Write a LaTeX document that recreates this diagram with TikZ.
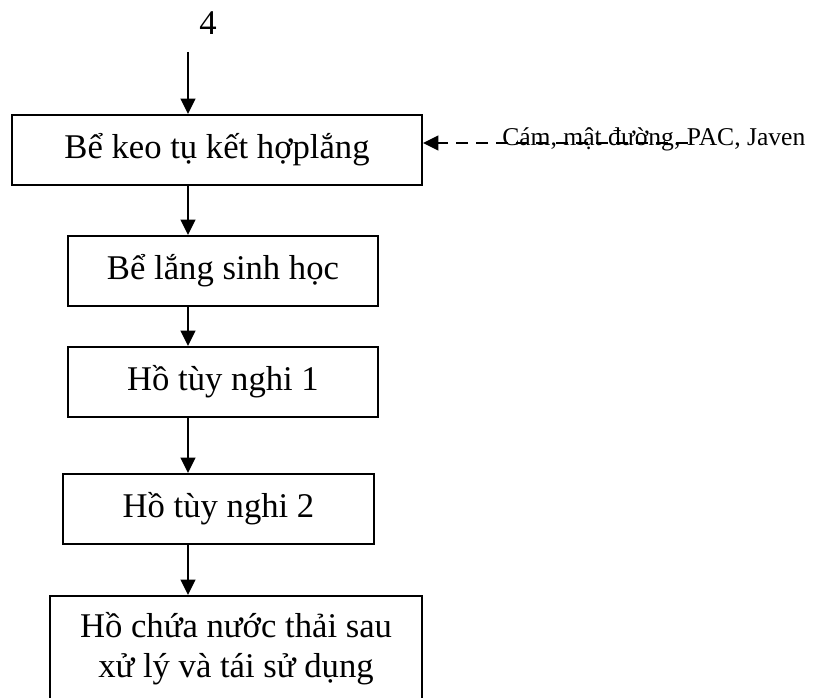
\documentclass[tikz,border=0pt]{standalone}
\usepackage{fontspec}
\setmainfont{Liberation Serif}
\usetikzlibrary{arrows.meta}
\tikzset{
  box/.style={draw, line width=1.5pt, rectangle, inner sep=0pt, align=center,
    font=\fontsize{26}{30}\selectfont, minimum height=52.5pt},
  arr/.style={line width=1.5pt, -{Triangle[length=11.5pt,width=11pt]}},
  dasharr/.style={line width=1.5pt, dash pattern=on 9pt off 6pt, -{Triangle[length=11.5pt,width=11pt]}},
  lbl/.style={inner sep=0pt, font=\fontsize{19.2}{22}\selectfont},
  big/.style={inner sep=0pt, font=\fontsize{26}{30}\selectfont}
}
\begin{document}
\begin{tikzpicture}[x=0.75pt,y=-0.75pt]
\useasboundingbox (0,0) rectangle (818,698);
\node[big] (four) at (208,23) {4};
\coordinate (ax) at (188,0);
\coordinate (start) at (188,52);
\node[box, minimum width=307.5pt] (b1) at (217,150) {Bể keo tụ kết hợplắng};
\node[box, minimum width=232.5pt] (b2) at (223,271) {Bể lắng sinh học};
\node[box, minimum width=232.5pt] (b3) at (223,382) {Hồ tùy nghi 1};
\node[box, minimum width=233.25pt] (b4) at (218.5,509) {Hồ tùy nghi 2};
\node[box, minimum width=279pt, minimum height=79.5pt] (b5) at (236,649) {Hồ chứa nước thải sau\\xử lý và tái sử dụng};
\coordinate (src) at (688,143);
\draw[dasharr] (src) -- (b1.east |- src);
\node[lbl, anchor=base west] (chem) at (502,146) {Cám, mật đường, PAC, Javen};
\draw[arr] (start) -- (b1.north -| ax);
\draw[arr] (b1.south -| ax) -- (b2.north -| ax);
\draw[arr] (b2.south -| ax) -- (b3.north -| ax);
\draw[arr] (b3.south -| ax) -- (b4.north -| ax);
\draw[arr] (b4.south -| ax) -- (b5.north -| ax);
\end{tikzpicture}
\end{document}
